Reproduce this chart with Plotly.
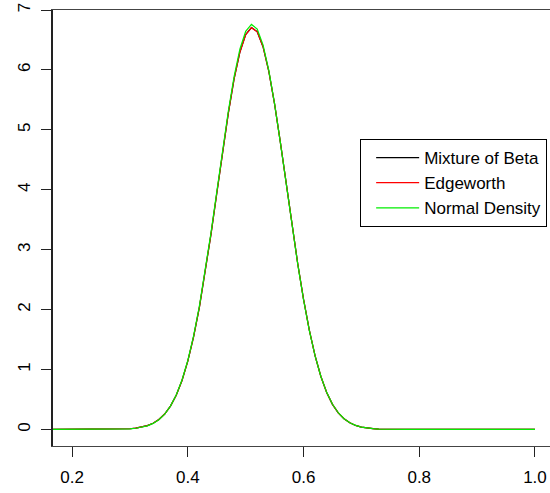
import plotly.graph_objects as go

# x grid
x_vals = [0.16, 0.20, 0.21, 0.22, 0.23, 0.24, 0.25, 0.26, 0.27, 0.28, 0.29,
          0.30, 0.31, 0.32, 0.33, 0.34, 0.35, 0.36, 0.37, 0.38, 0.39,
          0.40, 0.41, 0.42, 0.43, 0.44, 0.45, 0.46, 0.47, 0.48, 0.49,
          0.50, 0.51, 0.52, 0.53, 0.54, 0.55, 0.56, 0.57, 0.58, 0.59,
          0.60, 0.61, 0.62, 0.63, 0.64, 0.65, 0.66, 0.67, 0.68, 0.69,
          0.70, 0.71, 0.72, 0.73, 0.74, 0.75, 0.76, 0.78, 0.80, 0.85,
          0.90, 0.95, 1.00]

normal_density = [0.0, 0.0, 0.0, 0.0, 0.0, 0.0, 0.0, 0.0005, 0.0014, 0.003, 0.006,
                  0.011, 0.020, 0.036, 0.061, 0.101, 0.163, 0.256, 0.389, 0.575, 0.825,
                  1.151, 1.562, 2.058, 2.634, 3.277, 3.961, 4.653, 5.310, 5.889, 6.345,
                  6.644, 6.759, 6.682, 6.419, 5.991, 5.433, 4.788, 4.100, 3.411, 2.758,
                  2.168, 1.654, 1.228, 0.884, 0.619, 0.421, 0.279, 0.179, 0.112, 0.068,
                  0.040, 0.023, 0.013, 0.007, 0.004, 0.002, 0.001, 0.0, 0.0, 0.0,
                  0.0, 0.0, 0.0]

edgeworth = [0.0, 0.0, 0.0, 0.0, 0.0, 0.0, 0.0, 0.0004, 0.0012, 0.003, 0.006,
             0.012, 0.022, 0.038, 0.064, 0.104, 0.166, 0.258, 0.389, 0.572, 0.818,
             1.140, 1.546, 2.038, 2.612, 3.252, 3.934, 4.623, 5.275, 5.849, 6.296,
             6.588, 6.705, 6.635, 6.387, 5.975, 5.428, 4.791, 4.107, 3.420, 2.766,
             2.174, 1.658, 1.229, 0.884, 0.618, 0.419, 0.277, 0.178, 0.111, 0.067,
             0.040, 0.023, 0.013, 0.007, 0.004, 0.002, 0.001, 0.0, 0.0, 0.0,
             0.0, 0.0, 0.0]

mixture_beta = [0.0, 0.0, 0.0, 0.0, 0.0, 0.0, 0.0, 0.0004, 0.0012, 0.003, 0.006,
                0.012, 0.022, 0.038, 0.064, 0.104, 0.166, 0.258, 0.389, 0.572, 0.818,
                1.140, 1.546, 2.038, 2.612, 3.252, 3.934, 4.623, 5.275, 5.849, 6.296,
                6.590, 6.708, 6.637, 6.388, 5.976, 5.428, 4.791, 4.107, 3.420, 2.766,
                2.174, 1.658, 1.229, 0.884, 0.618, 0.419, 0.277, 0.178, 0.111, 0.067,
                0.040, 0.023, 0.013, 0.007, 0.004, 0.002, 0.001, 0.0, 0.0, 0.0,
                0.0, 0.0, 0.0]

series_names = ["Mixture of Beta", "Edgeworth", "Normal Density"]
series_colors = ["#000000", "#ff0000", "#00ee00"]

x_ticks = [0.2, 0.4, 0.6, 0.8, 1.0]
x_tick_labels = ["0.2", "0.4", "0.6", "0.8", "1.0"]
y_ticks = [0, 1, 2, 3, 4, 5, 6, 7]
y_tick_labels = ["0", "1", "2", "3", "4", "5", "6", "7"]

FONT = "Liberation Sans, Arial, Helvetica, sans-serif"

fig = go.Figure()
for name, ys, col in zip(series_names, [mixture_beta, edgeworth, normal_density], series_colors):
    fig.add_trace(go.Scatter(x=x_vals, y=ys, mode="lines", name=name,
                             line=dict(color=col, width=1.2)))

fig.update_layout(
    width=550, height=493,
    margin=dict(l=53, r=0, t=10, b=47),
    paper_bgcolor="white", plot_bgcolor="white",
    font=dict(family=FONT, size=17, color="#000000"),
    legend=dict(x=0.618, y=0.704, xanchor="left", yanchor="top",
                bgcolor="white", bordercolor="#000000", borderwidth=1,
                font=dict(family=FONT, size=17, color="#000000"),
                tracegroupgap=0, itemwidth=43, indentation=10),
    showlegend=True,
)
fig.update_xaxes(range=[0.167, 1.026], tickvals=x_ticks, ticktext=x_tick_labels,
                 showgrid=False, zeroline=False, showline=True, linecolor="#444444",
                 linewidth=1, mirror=True, ticks="outside", ticklen=10, tickwidth=1,
                 tickcolor="#222222", ticklabelstandoff=6)
fig.update_yaxes(range=[-0.276, 7.0], tickvals=y_ticks, ticktext=y_tick_labels,
                 showgrid=False, zeroline=False, showline=True, linecolor="#222222",
                 linewidth=1.5, ticks="outside", ticklen=10, tickwidth=1,
                 tickcolor="#222222", tickangle=-90, ticklabelstandoff=4)

fig.write_html("out.html")
